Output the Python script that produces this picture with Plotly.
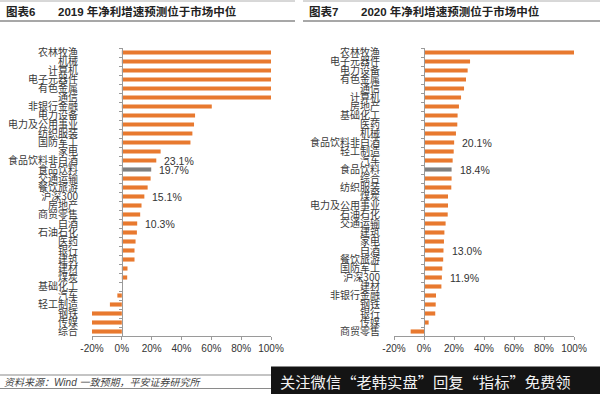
import plotly.graph_objects as go

# ---------------- data ----------------
cats_2019 = ["农林牧渔", "机械", "计算机", "电子元器件", "有色金属", "通信", "非银行金融", "电力设备",
             "电力及公用事业", "纺织服装", "国防军工", "家电", "食品饮料非白酒", "食品饮料", "交通运输",
             "餐饮旅游", "沪深300", "房地产", "商贸零售", "白酒", "石油石化", "医药", "银行", "建筑",
             "建材", "煤炭", "基础化工", "汽车", "轻工制造", "钢铁", "传媒", "综合"]
vals_2019 = [101, 101, 101, 101, 101, 101, 60.3, 49.1, 48.4, 47.3, 46.0, 26.0, 23.1, 19.7, 19.3,
             17.3, 15.1, 13.2, 12.3, 10.3, 10.1, 9.2, 8.5, 8.5, 3.8, 3.6, 0.0, -3.0, -8.0, -21, -21, -21]

cats_2020 = ["农林牧渔", "电子元器件", "电力设备", "有色金属", "通信", "计算机", "房地产", "基础化工",
             "医药", "机械", "食品饮料非白酒", "轻工制造", "汽车", "食品饮料", "综合", "纺织服装", "煤炭",
             "电力及公用事业", "石油石化", "交通运输", "建筑", "家电", "白酒", "餐饮旅游", "国防军工",
             "沪深300", "建材", "非银行金融", "钢铁", "银行", "传媒", "商贸零售"]
vals_2020 = [101, 30.7, 29.1, 28.0, 26.7, 24.7, 23.3, 22.4, 22.2, 21.3, 20.1, 19.8, 19.1, 18.4, 18.4,
             18.2, 16.0, 16.0, 15.8, 14.4, 13.6, 13.3, 13.0, 12.8, 12.2, 11.9, 11.6, 8.0, 7.8, 7.5,
             3.1, -8.9]

highlight = "食品饮料"
labeled_2019 = ["食品饮料非白酒", "食品饮料", "沪深300", "白酒"]
labeled_2020 = ["食品饮料非白酒", "食品饮料", "白酒", "沪深300"]

x_ticks = [-20, 0, 20, 40, 60, 80, 100]
x_ticktext = ["-20%", "0%", "20%", "40%", "60%", "80%", "100%"]

titles = [("图表6", "2019 年净利增速预测位于市场中位"), ("图表7", "2020 年净利增速预测位于市场中位")]
source_text = "资料来源：Wind 一致预期，平安证券研究所"
watermark_text = "关注微信“老韩实盘”回复“指标”免费领"

# ---------------- styling ----------------
W, H = 600, 394
ORANGE = "#E8792F"
GRAY = "#7F7F7F"
AXIS = "#9A9A9A"
TXT = "#333333"
FONT = "Liberation Sans, Noto Sans CJK SC, sans-serif"
CJK = "Noto Sans CJK SC, sans-serif"

def px(x):
    return x / W

def py(y):
    return 1 - y / H

fig = go.Figure()

panels = [
    (cats_2019, vals_2019, labeled_2019, "x", "y"),
    (cats_2020, vals_2020, labeled_2020, "x2", "y2"),
]

annotations = []
for cats, vals, labeled, xa, ya in panels:
    colors = [GRAY if c == highlight else ORANGE for c in cats]
    fig.add_trace(go.Bar(
        x=vals, y=cats, orientation="h", marker=dict(color=colors, line=dict(width=0)),
        xaxis=xa, yaxis=ya, showlegend=False, hoverinfo="skip",
    ))
    for c, v in zip(cats, vals):
        if c in labeled:
            annotations.append(dict(
                x=v, y=c, xref=xa, yref=ya, text=f"{v:.1f}%", showarrow=False,
                xanchor="left", yanchor="middle", xshift=6,
                font=dict(size=10.5, color=TXT, family=FONT),
            ))

y_dom = [py(336), py(48)]
common_x = dict(range=[-20, 100], tickmode="array", tickvals=x_ticks, ticktext=x_ticktext,
                showline=True, linecolor=AXIS, linewidth=1, ticks="outside", ticklen=3,
                tickcolor=AXIS, showgrid=False, zeroline=False, fixedrange=True,
                automargin=False,
                tickfont=dict(size=10, color=TXT, family=FONT))

def yax(cats, pos):
    return dict(domain=y_dom, anchor="free", position=pos, type="category",
                categoryorder="array", categoryarray=cats, automargin=False,
                range=[len(cats) - 0.5, -0.5], tickmode="array", tickvals=cats, ticktext=cats,
                showline=True, linecolor=AXIS, linewidth=1, ticks="outside", ticklen=3,
                tickson="boundaries", tickcolor=AXIS, ticklabelstandoff=42,
                showgrid=False, zeroline=False, fixedrange=True,
                tickfont=dict(size=10, color="#3a3a3a", family=CJK))

fig.update_layout(
    xaxis=dict(domain=[px(92), px(271)], anchor="y", **common_x),
    xaxis2=dict(domain=[px(394), px(574)], anchor="y2", **common_x),
    yaxis=yax(cats_2019, px(122)),
    yaxis2=yax(cats_2020, px(424)),
    bargap=0.54,
    hovermode=False,
)

# headers
shapes = []
for i, (lbl, ttl) in enumerate(titles):
    xl = 0 if i == 0 else 303
    xr = 295 if i == 0 else 600
    annotations.append(dict(x=px(xl + 4), y=py(12), xref="paper", yref="paper", text=f"<b>{lbl}</b>",
                            showarrow=False, xanchor="left", yanchor="middle",
                            font=dict(size=11.5, color="#222", family=FONT)))
    annotations.append(dict(x=px(xl + 56), y=py(12), xref="paper", yref="paper", text=f"<b>{ttl}</b>",
                            showarrow=False, xanchor="left", yanchor="middle",
                            font=dict(size=11.5, color="#222", family=FONT)))
    shapes.append(dict(type="line", xref="paper", yref="paper", x0=px(xl), x1=px(xr),
                       y0=py(1), y1=py(1), line=dict(color="#B0B0B0", width=1)))
    shapes.append(dict(type="line", xref="paper", yref="paper", x0=px(xl), x1=px(xr),
                       y0=py(21), y1=py(21), line=dict(color="#8A8A8A", width=1.5)))

# footer
shapes.append(dict(type="line", xref="paper", yref="paper", x0=0, x1=px(271),
                   y0=py(375), y1=py(375), line=dict(color="#8A8A8A", width=1.2)))
shapes.append(dict(type="line", xref="paper", yref="paper", x0=0, x1=px(271),
                   y0=py(388.5), y1=py(388.5), line=dict(color="#8A8A8A", width=1.2)))
annotations.append(dict(x=px(2), y=py(382.5), xref="paper", yref="paper",
                        text=f"<i>{source_text}</i>", showarrow=False, xanchor="left",
                        yanchor="middle", font=dict(size=10, color="#444", family=FONT)))
# watermark box
shapes.append(dict(type="rect", xref="paper", yref="paper", x0=px(271), x1=1,
                   y0=0, y1=py(366.5), fillcolor="#141414", line=dict(width=0), layer="above"))
annotations.append(dict(x=px(278), y=py(381), xref="paper", yref="paper", text=watermark_text,
                        showarrow=False, xanchor="left", yanchor="middle",
                        font=dict(size=15.3, color="#F2F2F2", family=CJK)))

fig.update_layout(
    width=W, height=H, margin=dict(l=0, r=0, t=0, b=0, autoexpand=False),
    paper_bgcolor="white", plot_bgcolor="white",
    shapes=shapes, annotations=annotations,
    font=dict(family=FONT),
)

fig.write_html("out.html", config={"displayModeBar": False, "staticPlot": True},
               post_script="document.body.style.margin='0';document.body.style.overflow='hidden';")
